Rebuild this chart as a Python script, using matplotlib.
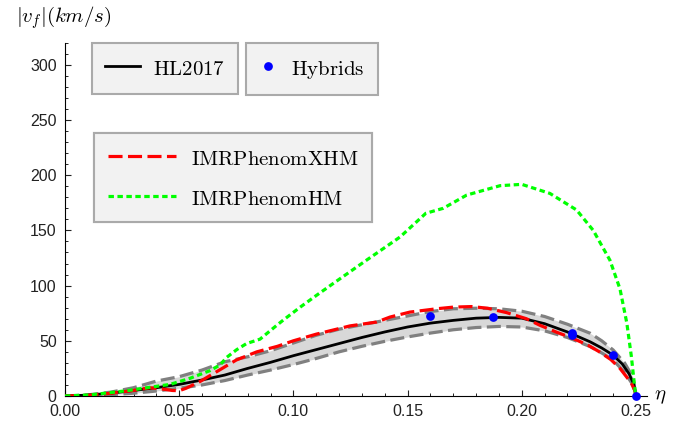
import numpy as np
import matplotlib
matplotlib.use('Agg')
import matplotlib.pyplot as plt
from matplotlib.lines import Line2D
from matplotlib.ticker import MultipleLocator, FormatStrFormatter

# HL2017 fit
eta_hl = [0, 0.01, 0.02, 0.03, 0.04, 0.05, 0.06, 0.07, 0.08, 0.09, 0.10, 0.11, 0.12, 0.13,
          0.14, 0.15, 0.16, 0.17, 0.18, 0.19, 0.20, 0.21, 0.22, 0.23, 0.235, 0.24, 0.244,
          0.247, 0.249, 0.25]
v_hl = [0, 0.8, 2.5, 5, 7.5, 10.5, 14.5, 19, 25, 30.5, 36.5, 42, 47.5, 53,
        58, 62.5, 66, 68.5, 70.5, 71.2, 70.5, 65.5, 58, 49, 43.5, 37, 29,
        20, 11, 0]

# uncertainty band (gray dashed)
eta_band = [0, 0.01, 0.02, 0.03, 0.04, 0.05, 0.06, 0.07, 0.08, 0.09, 0.10, 0.11, 0.12, 0.13,
            0.14, 0.15, 0.16, 0.17, 0.18, 0.19, 0.20, 0.21, 0.22, 0.23, 0.235, 0.24, 0.245,
            0.2487, 0.25]
v_upper = [0, 1, 3.5, 7.5, 13.5, 17.5, 23.5, 31, 35.5, 41, 48, 55, 60.5, 64.5,
           68.5, 72.5, 76.5, 79, 79.5, 79, 76.8, 72, 65, 56.8, 50, 41.7, 30,
           17, 0]
v_lower = [0, 0.3, 1.2, 2.5, 4.5, 7, 10, 14, 19, 23.5, 28.5, 34, 40, 45,
           49.5, 53.5, 57, 60, 62, 63, 62.5, 59, 53, 44.7, 39, 32.6, 21.5,
           10, 0]

# IMRPhenomXHM
eta_xhm = [0, 0.01, 0.02, 0.03, 0.037, 0.042, 0.047, 0.05, 0.053, 0.059, 0.0664, 0.075,
           0.084, 0.093, 0.10, 0.11, 0.1248, 0.1365, 0.1423, 0.151, 0.1627, 0.17, 0.178,
           0.185, 0.1934, 0.202, 0.208, 0.215, 0.2226, 0.229, 0.234, 0.239, 0.243, 0.246,
           0.248, 0.2495, 0.25]
v_xhm = [0, 0.5, 2.5, 5, 7.5, 6.5, 5, 4.8, 7, 13, 22, 32.6,
         40, 45, 50, 56, 63.5, 67, 71.5, 76, 79, 80.5, 81,
         79.5, 75.5, 70, 64, 58, 52, 46, 40, 33, 25, 17,
         11.5, 5, 0]

# IMRPhenomHM
eta_hm = [0, 0.011, 0.027, 0.0372, 0.046, 0.0547, 0.0635, 0.0678, 0.0708, 0.0752, 0.0795,
          0.0854, 0.0927, 0.0956, 0.103, 0.110, 0.1175, 0.132, 0.1467, 0.158, 0.1656,
          0.1759, 0.1905, 0.20, 0.2123, 0.224, 0.2313, 0.2386, 0.243, 0.246, 0.248,
          0.2496, 0.25]
v_hm = [0, 1, 4.8, 7.9, 10.5, 16, 23, 28, 35, 42, 47.5,
        51.5, 64, 68.8, 80.5, 91, 102, 123, 144, 165.5, 170,
        182, 190.5, 191.7, 183.5, 168.5, 150, 123, 97, 66, 35.6,
        5, 0]

# hybrid simulations
eta_hyb = [0.16, 0.1875, 0.2222, 0.2222, 0.24, 0.25]
v_hyb = [72.2, 71.8, 55.5, 57.5, 37, 0]

plt.rcParams['mathtext.fontset'] = 'cm'
plt.rcParams['font.family'] = 'Liberation Sans'

W, H = 689, 421
fig = plt.figure(figsize=(W/100, H/100), dpi=100)
ax = fig.add_axes([65/W, 1-396/H, 581.7/W, 353.3/H])

ax.fill_between(eta_band, v_lower, v_upper, color='#d8d8d8', lw=0, zorder=1)
ax.plot(eta_band, v_upper, color='#808080', lw=2.3, dashes=(4.4, 1.7), zorder=2)
ax.plot(eta_band, v_lower, color='#808080', lw=2.3, dashes=(4.4, 1.7), zorder=2)
ax.plot(eta_hl, v_hl, color='black', lw=2.0, zorder=3)
ax.plot(eta_xhm, v_xhm, color='#ff0000', lw=2.3, dashes=(4.4, 1.7), zorder=4)
ax.plot(eta_hm, v_hm, color='#00ff00', lw=2.3, dashes=(1.7, 1.1), zorder=5)
ax.plot(eta_hyb, v_hyb, 'o', color='#0000ff', ms=6.3, mew=0, zorder=6, clip_on=False)

ax.set_xlim(0, 0.2547)
ax.set_ylim(0, 320)
ax.spines['top'].set_visible(False)
ax.spines['right'].set_visible(False)
ax.spines['left'].set_linewidth(0.8)
ax.spines['bottom'].set_linewidth(0.8)
ax.xaxis.set_major_locator(MultipleLocator(0.05))
ax.xaxis.set_minor_locator(MultipleLocator(0.01))
ax.xaxis.set_major_formatter(FormatStrFormatter('%.2f'))
ax.yaxis.set_major_locator(MultipleLocator(50))
ax.yaxis.set_minor_locator(MultipleLocator(10))
ax.tick_params(which='major', direction='in', length=4.5, width=0.8, labelsize=11.5,
               colors='#222222')
ax.tick_params(which='minor', direction='in', length=2.4, width=0.7, colors='#222222')
ax.tick_params(axis='x', pad=6)
ax.tick_params(axis='y', pad=6)

fig.text(16/W, 1-18/H, r'$|v_f|(km/s)$', fontsize=15, ha='left', va='center')
fig.text(654/W, 1-397/H, r'$\eta$', fontsize=15, ha='left', va='center')

fs = 15
def make_legend(handles, labels, x_px, y_px, hl, htp, hh, ls=0.5):
    leg = ax.legend(handles, labels, loc='upper left',
                    bbox_to_anchor=(x_px/W, 1-y_px/H), bbox_transform=fig.transFigure,
                    borderaxespad=0, fontsize=fs, fancybox=False, framealpha=1,
                    facecolor='#f2f2f2', edgecolor='#aaaaaa', borderpad=0.64,
                    handlelength=hl, handletextpad=htp, handleheight=hh,
                    labelspacing=ls)
    leg.get_frame().set_linewidth(1.5)
    ax.add_artist(leg)
    return leg

h_hl = Line2D([], [], color='black', lw=2.0)
h_hyb = Line2D([], [], ls='none', marker='o', color='#0000ff', ms=6.3, mew=0)
h_xhm = Line2D([], [], color='#ff0000', lw=2.3, dashes=(4.4, 1.7))
h_hm = Line2D([], [], color='#00ff00', lw=2.3, dashes=(1.7, 1.1))

make_legend([h_hl], [r'$\mathrm{HL2017}$'], 91.7, 42.7, 1.68, 0.61, 1.46)
make_legend([h_hyb], [r'$\mathrm{Hybrids}$'], 246, 42.7, 0.84, 0.68, 1.46)
make_legend([h_xhm, h_hm], [r'$\mathrm{IMRPhenomXHM}$', r'$\mathrm{IMRPhenomHM}$'],
            94.3, 133.3, 3.26, 0.72, 1.29, ls=0.83)

fig.savefig('out.png', dpi=100)
